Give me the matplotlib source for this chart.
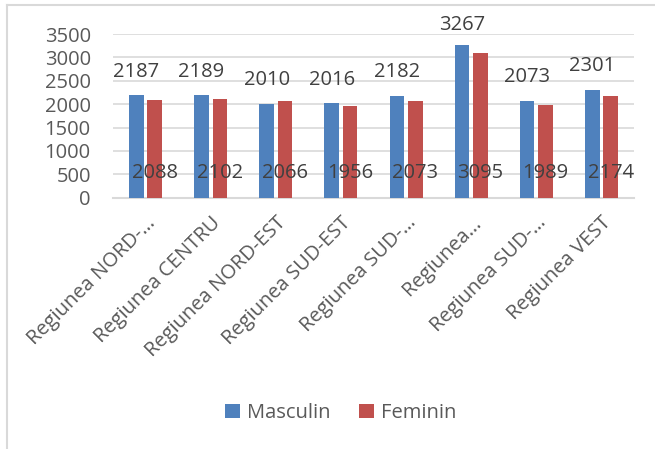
import numpy as np
import matplotlib.pyplot as plt
from matplotlib.lines import Line2D

plt.rc('font', family=['Open Sans', 'DejaVu Sans'])
plt.rc('font', size=14.5)

regions = ['Regiunea NORD-…', 'Regiunea CENTRU', 'Regiunea NORD-EST', 'Regiunea SUD-EST',
           'Regiunea SUD-…', 'Regiunea…', 'Regiunea SUD-…', 'Regiunea VEST']
masculin = [2187, 2189, 2010, 2016, 2182, 3267, 2073, 2301]
feminin = [2088, 2102, 2066, 1956, 2073, 3095, 1989, 2174]

text_col = '#595959'
grid_col = '#d9d9d9'
blue = '#4f81bd'
red = '#c0504d'

fig = plt.figure(figsize=(6.55, 4.49), dpi=100)
ax = fig.add_axes([113/655, 1 - 197.7/449, (634 - 113)/655, (197.7 - 34)/449])

x = np.arange(len(regions))
w = 0.225
off = 0.141
ax.bar(x - off, masculin, w, color=blue, label='Masculin', zorder=3)
ax.bar(x + off, feminin, w, color=red, label='Feminin', zorder=3)

# data labels: male above the bar (kept inside the chart), female near the bottom
for xi, m, f in zip(x, masculin, feminin):
    dy = 17 if m < 3200 else 14
    ax.annotate(str(m), (xi - off, m), xytext=(0, dy), textcoords='offset points',
                ha='center', va='center', color='#404040')
    ax.text(xi + off, 535, str(f), ha='center', va='center', color='#404040', zorder=4)

ax.set_xlim(-0.5, len(regions) - 0.5)
ax.set_ylim(0, 3500)
ax.set_yticks(np.arange(0, 3501, 500))
ax.yaxis.grid(True, color=grid_col, lw=1.2)
ax.set_axisbelow(True)
for s in ['top', 'right', 'left']:
    ax.spines[s].set_visible(False)
ax.spines['bottom'].set_color(grid_col)
ax.spines['bottom'].set_linewidth(1.5)
ax.tick_params(axis='y', length=0, pad=16, colors=text_col)
ax.tick_params(axis='x', length=0, pad=11, colors=text_col)
ax.set_xticks(x, regions, rotation=45, ha='right', rotation_mode='anchor')

leg = fig.legend(loc='center', bbox_to_anchor=(0.52, 0.08), ncol=2, frameon=False,
                 handlelength=0.75, handleheight=0.75, handletextpad=0.35,
                 columnspacing=1.4, labelcolor=text_col)

# chart border (cropped at right and bottom)
fig.add_artist(Line2D([7/655, 7/655], [0, 1 - 5/449], color=grid_col, lw=1.5))
fig.add_artist(Line2D([7/655, 1], [1 - 5/449, 1 - 5/449], color=grid_col, lw=1.5))

fig.savefig('out.png', dpi=100)
